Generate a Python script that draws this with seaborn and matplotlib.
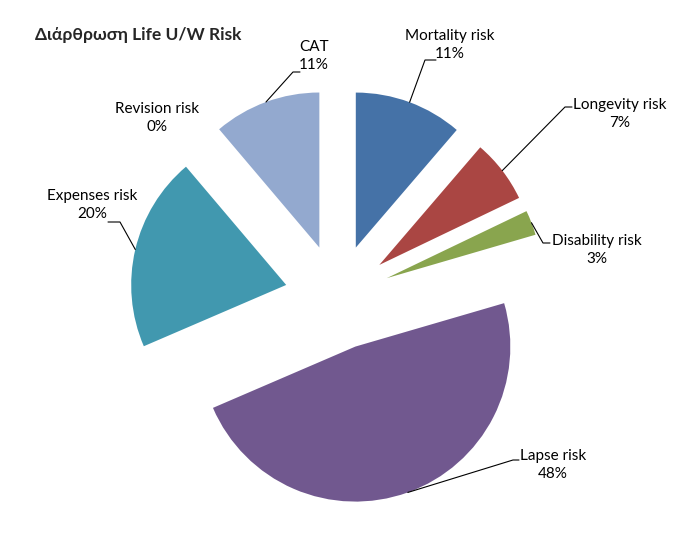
import matplotlib
matplotlib.use("Agg")
import matplotlib.pyplot as plt
import seaborn as sns
import numpy as np
from matplotlib.lines import Line2D

# ---- data ----
categories = ["Mortality risk", "Longevity risk", "Disability risk", "Lapse risk",
              "Expenses risk", "Revision risk", "CAT"]
values = [11.3, 6.6, 2.6, 48.1, 20.3, 0.0, 11.2]
colors = ["#4572A7", "#AA4643", "#89A54E", "#71588F", "#4198AF", "#DB843D", "#93A9CF"]
title = "Διάρθρωση Life U/W Risk"

# ---- layout (pixels, y from top) ----
label_pos = {
    "Mortality risk": (450, 45),
    "Longevity risk": (620, 114),
    "Disability risk": (597, 250),
    "Lapse risk": (553, 465),
    "Expenses risk": (92, 205),
    "Revision risk": (157, 118),
    "CAT": (314, 56),
}
leaders = {
    "Mortality risk": [(425, 60), (436, 60)],
    "Longevity risk": [(565, 107), (572, 107)],
    "Disability risk": [(543, 243), (550, 243)],
    "Lapse risk": [(513, 460), (519, 460)],
    "Expenses risk": [(120, 222), (108, 222)],
    "CAT": [(293, 72), (300, 72)],
}

sns.set_theme(style="white")
plt.rcParams['font.family'] = ['Lato', 'DejaVu Sans']

W, H = 676, 555
fig = plt.figure(figsize=(W / 100, H / 100), dpi=100)
fig.patch.set_facecolor("white")
R = 155
cx, cy = 337.5, 297
L = 1.7
side = 2 * L * R
ax = fig.add_axes([(cx - L * R) / W, (H - cy - L * R) / H, side / W, side / H])
wedges, _ = ax.pie(values, colors=colors, startangle=90, counterclock=False,
                   explode=[0.34] * len(values), radius=1,
                   wedgeprops=dict(linewidth=0))
ax.set_xlim(-L, L)
ax.set_ylim(-L, L)
ax.set_aspect('equal', adjustable='box')
ax.axis('off')


def fpx(x, y):
    return x / W, 1 - y / H


inv = fig.transFigure.inverted()
for cat, val, w in zip(categories, values, wedges):
    tx, ty = label_pos[cat]
    fig.text(*fpx(tx, ty), f"{cat}\n{val:.0f}%", ha='center', va='center',
             multialignment='center', fontsize=11, linespacing=1.42, color="#000000")
    if cat in leaders:
        th = np.deg2rad((w.theta1 + w.theta2) / 2)
        c = np.array(w.center)
        pt = c + w.r * np.array([np.cos(th), np.sin(th)])
        a = inv.transform(ax.transData.transform(pt))
        pts = [tuple(a)] + [fpx(*p) for p in leaders[cat]]
        xs, ys = zip(*pts)
        fig.add_artist(Line2D(xs, ys, transform=fig.transFigure, color="#000000", lw=0.8))

fig.text(*fpx(35, 35), title, ha='left', va='center', fontsize=12.5, fontweight='bold')

fig.savefig("out.png", dpi=100, facecolor="white")
